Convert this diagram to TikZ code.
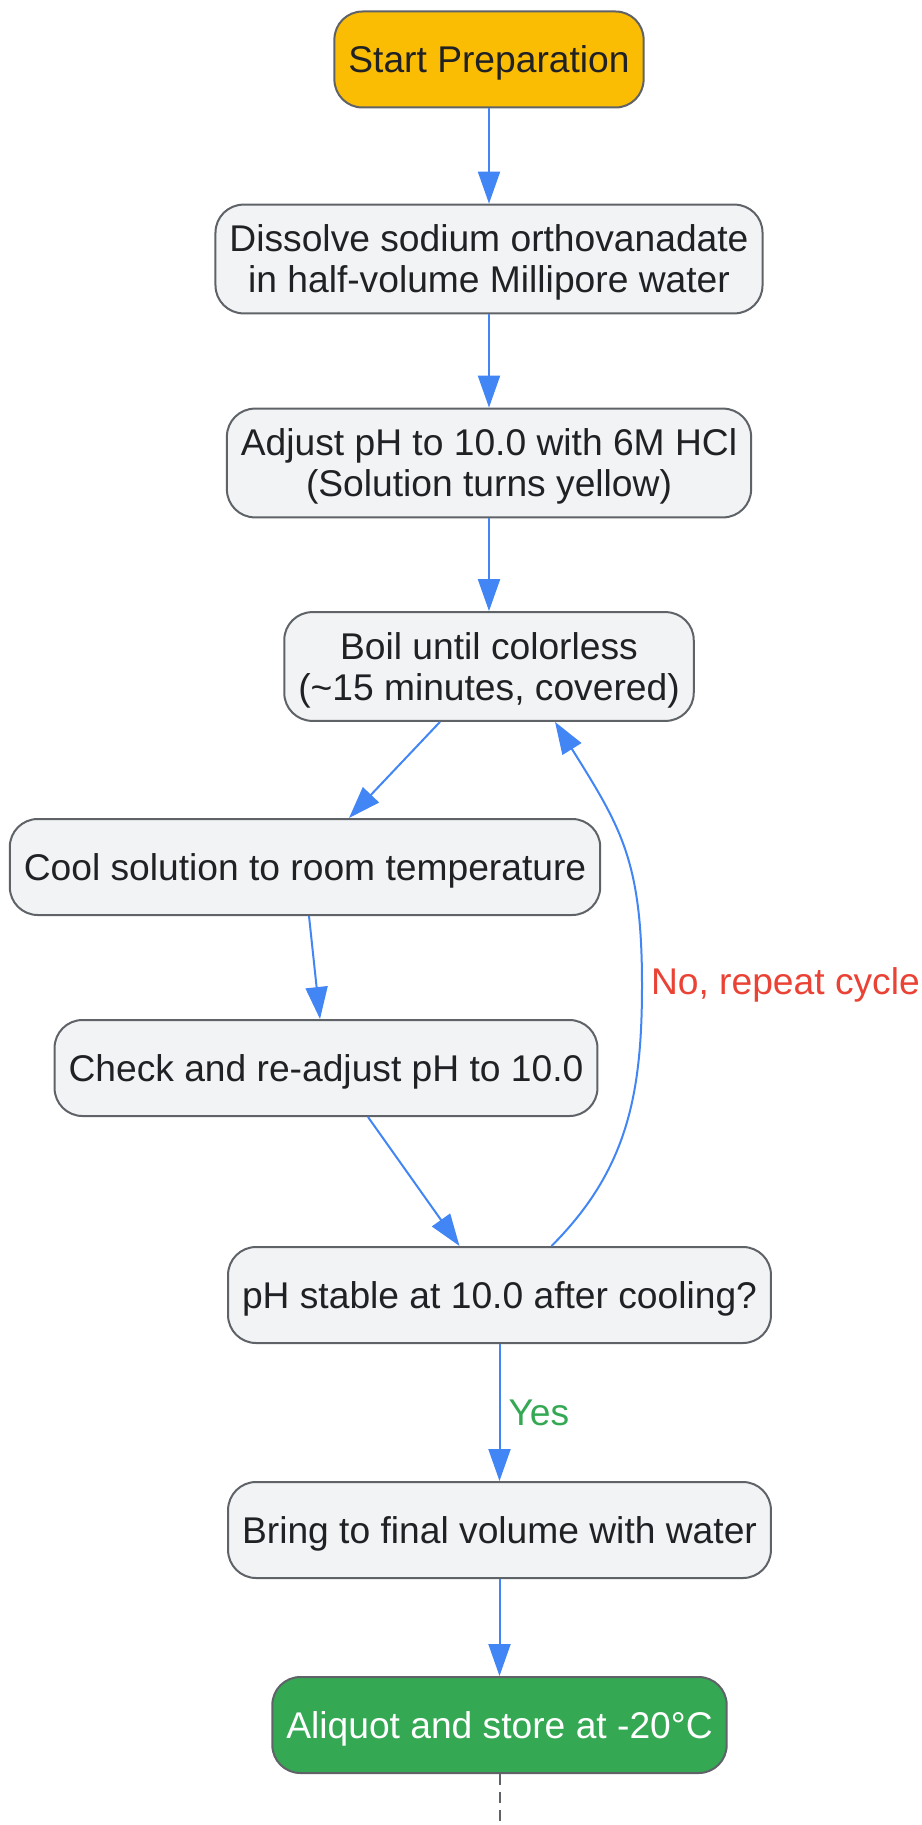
\documentclass[tikz,border=0pt]{standalone}
\usepackage{fontspec}
\setmainfont{Liberation Sans}
\usetikzlibrary{arrows.meta}
\definecolor{boxfill}{HTML}{F1F3F4}
\definecolor{boxline}{HTML}{5F6368}
\definecolor{inktext}{HTML}{202124}
\definecolor{startfill}{HTML}{FBBC04}
\definecolor{storefill}{HTML}{34A853}
\definecolor{flowblue}{HTML}{4285F4}
\definecolor{nored}{HTML}{EA4335}
\definecolor{yesgreen}{HTML}{34A853}
\tikzset{
    stepbox/.style={draw=boxline, line width=1pt, fill=boxfill, text=inktext,
      rounded corners=14pt, align=center, inner xsep=7pt, inner ysep=10.2pt,
      text depth=-1.5pt, minimum height=48pt, font=\fontsize{18.6}{20.5}\selectfont},
    startbox/.style={stepbox, fill=startfill},
    storebox/.style={stepbox, fill=storefill, text=white},
    flow/.style={draw=flowblue, line width=1pt, -{Triangle[length=16pt,width=11pt]}},
    dashline/.style={draw=boxline, line width=1pt, dash pattern=on 5.5pt off 3.5pt},
    edgetext/.style={font=\fontsize{18.6}{20.5}\selectfont, inner sep=4pt},
  }
\begin{document}
\begin{tikzpicture}[x=0.5pt,y=-0.5pt]
				  %cadre = taille de l'image
				  \useasboundingbox (0,0) rectangle (921,1825);
				  
				  \node[startbox] (start) at (489,59.5) {Start Preparation};
				  \node[stepbox] (dissolve) at (489,259) {Dissolve sodium orthovanadate\\in half-volume Millipore water};
				  \node[stepbox] (adjust) at (489,463) {Adjust pH to 10.0 with 6M HCl\\(Solution turns yellow)};
				  \node[stepbox] (boil) at (489,666.5) {Boil until colorless\\(\textasciitilde15 minutes, covered)};
				  \node[stepbox] (cool) at (305,867) {Cool solution to room temperature};
				  \node[stepbox] (check) at (326,1068) {Check and re-adjust pH to 10.0};
				  \node[stepbox] (stable) at (499.5,1295) {pH stable at 10.0 after cooling?};
				  \node[stepbox] (bring) at (499.5,1530) {Bring to final volume with water};
				  \node[storebox] (store) at (499.5,1725) {Aliquot and store at -20°C};
				  
				  \coordinate (loop) at (642,985);
				  \coordinate (out) at (499.5,1825);
				  
				  \draw[flow] (start) -- (dissolve);
				  \draw[flow] (dissolve) -- (adjust);
				  \draw[flow] (adjust) -- (boil);
				  \draw[flow] ([xshift=-24.5pt]boil.south) -- ([xshift=22pt]cool.north);
				  \draw[flow] ([xshift=2pt]cool.south) -- ([xshift=-3pt]check.north);
				  \draw[flow] ([xshift=21pt]check.south) -- ([xshift=-20pt]stable.north);
				  
				  %retour
				  \draw[flow] ([xshift=26pt]stable.north) to[out=45,in=-90] node[pos=1, right, edgetext, text=nored] {No, repeat cycle} (loop) to[out=90,in=-58, looseness=1.15] ([xshift=33pt]boil.south);
				  
				  \draw[flow] (stable) -- node[right, edgetext, text=yesgreen] {Yes} (bring);
				  \draw[flow] (bring) -- (store);
				  \draw[dashline] (store) -- (out);
				  \end{tikzpicture}
\end{document}
